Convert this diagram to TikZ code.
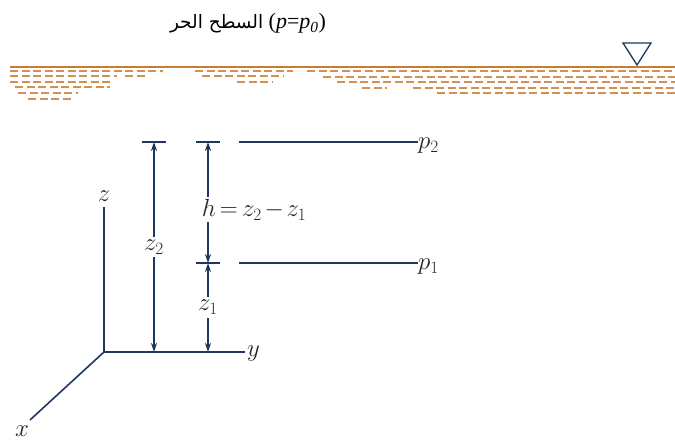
\documentclass[tikz,border=0pt]{standalone}
\usepackage{fontspec}
\setmainfont{Liberation Serif}
\newfontfamily\arabicfont[Script=Arabic]{DejaVu Sans}
\newfontfamily\titlefont{Liberation Serif}
\TeXXeTstate=1
\usetikzlibrary{shapes,arrows.meta,positioning}
\definecolor{LineNavy}{RGB}{30, 55, 95}
\definecolor{WaterOrange}{RGB}{200, 125, 55}

\begin{document}
\begin{tikzpicture}[x=1pt, y=-1pt,
    navy/.style={LineNavy, line width=1.6pt},
    dimline/.style={navy, {Stealth[length=9pt,width=6pt]}-{Stealth[length=9pt,width=6pt]}},
    waterdash/.style={WaterOrange!85, line width=2pt, dash pattern=on 8pt off 3.5pt},
    lbl/.style={font=\fontsize{26}{30}\selectfont, text=black!85, inner sep=1pt}]
  \useasboundingbox (0,0) rectangle (675,443);

  % free surface
  \node[anchor=base, font=\fontsize{22}{26}\selectfont] (title) at (248,29)
    {{\arabicfont\fontsize{18.5}{26}\selectfont\beginR السطح الحر\endR} {\titlefont(\textit{p}=\textit{p}\textsubscript{\textit{0}})}};
  \draw[WaterOrange, line width=1.8pt] (10,67) -- (675,67);
  \foreach \y/\a/\b in {71/10/163, 76/10/117, 76/125/147, 82/10/110, 87/15/110,
                        93/18/78, 99/28/73, 71/195/293, 76/202/283, 82/237/273,
                        71/307/675, 77/323/675, 82/337/675, 88/362/387, 88/413/675,
                        93/437/675}
    \draw[waterdash] (\a,\y) -- (\b,\y);
  \draw[LineNavy, line width=1.3pt, line join=miter] (623,43) -- (651,43) -- (637,65) -- cycle;

  % axes
  \coordinate (origin) at (104,352);
  \coordinate (zTop) at (104,207);
  \coordinate (yEnd) at (245,352);
  \coordinate (xEnd) at (30,420);
  \draw[navy] (zTop) -- (origin) -- (yEnd);
  \draw[navy] (origin) -- (xEnd);
  \node[lbl, anchor=base] (lblZ) at (104,202) {$z$};
  \node[lbl, anchor=base west] (lblY) at (246,357) {$y$};
  \node[lbl, anchor=base] (lblX) at (22,437) {$x$};

  % levels
  \coordinate (z2Top) at (154,142);
  \coordinate (z2Bot) at (154,352);
  \coordinate (hTop) at (208,142);
  \coordinate (hBot) at (208,263);
  \coordinate (z1Bot) at (208,352);
  \draw[navy] (142,142) -- (166,142);
  \draw[navy] (196,142) -- (220,142);
  \draw[navy] (196,263) -- (220,263);
  \coordinate (lvl2) at (239,142);
  \coordinate (lvl1) at (239,263);
  \node[lbl, anchor=base west, inner sep=0pt] (lblP2) at (418,149) {$p_2$};
  \node[lbl, anchor=base west, inner sep=0pt] (lblP1) at (418,270) {$p_1$};
  \draw[navy] (lvl2) -- (lblP2.west |- lvl2);
  \draw[navy] (lvl1) -- (lblP1.west |- lvl1);

  % dimensions
  \draw[dimline] (z2Top) -- node[lbl, fill=white, inner sep=3pt] (lblZ2) {$z_2$} (z2Bot);
  \draw[dimline] (hTop) -- node[lbl, fill=white, pos=0.56, anchor=west, xshift=-9pt, inner sep=2pt] (lblH) {$\thickmuskip=3mu \medmuskip=2mu h=z_2-z_1$} (hBot);
  \draw[dimline] (hBot) -- node[lbl, fill=white, inner sep=3pt] (lblZ1) {$z_1$} (z1Bot);
\end{tikzpicture}
\end{document}
